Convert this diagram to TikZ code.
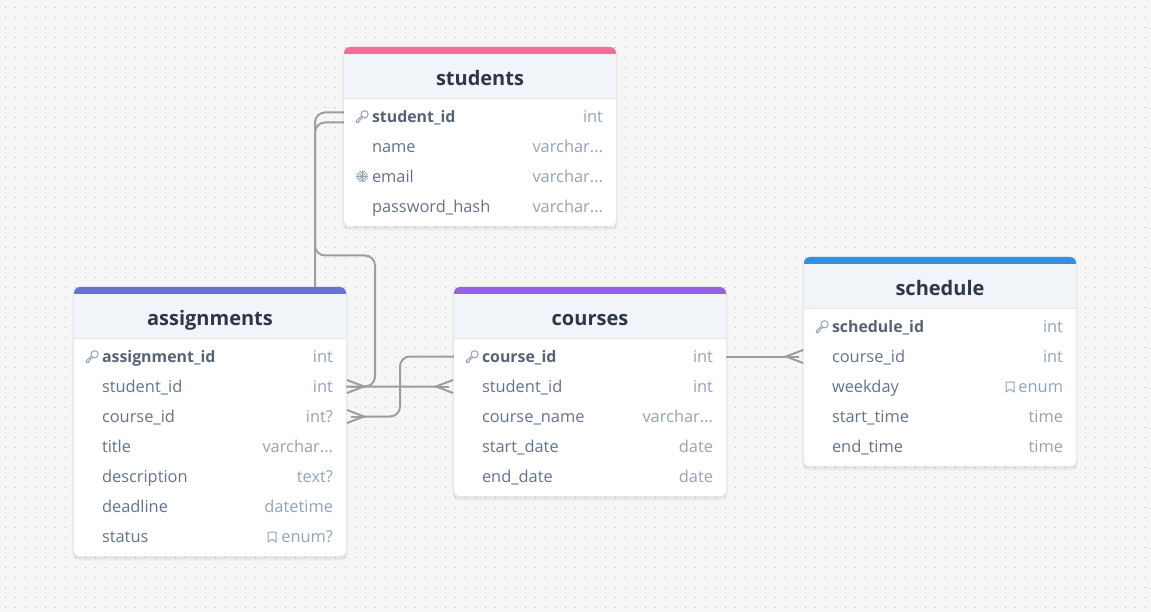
\documentclass[tikz,border=0pt]{standalone}
\usepackage{fontspec}
\setmainfont{Open Sans}
\usetikzlibrary{arrows.meta,shadows}
\definecolor{canvascol}{HTML}{F6F6F6}
\definecolor{dotcol}{HTML}{B6B6B6}
\definecolor{linkcol}{HTML}{9E9E9E}
\definecolor{headcol}{HTML}{F1F5F9}
\definecolor{rulecol}{HTML}{E2E8F0}
\definecolor{titlecol}{HTML}{2D3748}
\definecolor{fieldcol}{HTML}{64748B}
\definecolor{pkcol}{HTML}{566375}
\definecolor{typecol}{HTML}{94A3B8}
\definecolor{studentscol}{HTML}{F66D9B}
\definecolor{assignmentscol}{HTML}{6574CD}
\definecolor{coursescol}{HTML}{9561E2}
\definecolor{schedulecol}{HTML}{3490DC}
\newcommand{\pk}[1]{{\fontsize{15.9pt}{20pt}\selectfont\textbf{\textcolor{pkcol}{#1}}}}
\newcommand{\typ}[1]{\textcolor{typecol}{#1}}
\tikzset{
  crow/.tip={Rectangle[length=17pt,width=2pt,sep=-17pt] Straight Barb[reversed,length=17pt,width=13pt]},
  link/.style={draw=linkcol,line width=2pt,rounded corners=10pt},
  tablecard/.style={rectangle,rounded corners=6pt,fill=white,minimum width=272pt,inner sep=0pt,
    general shadow={fill=black,opacity=.02,shadow scale=1.015,shadow yshift=-1pt},
    general shadow={fill=black,opacity=.025,shadow scale=1.01,shadow yshift=-3pt},
    general shadow={fill=black,opacity=.025,shadow scale=1.005,shadow yshift=-4pt}},
  tabletitle/.style={text=titlecol,font=\fontsize{20pt}{24pt}\selectfont\bfseries,inner sep=0pt,text height=21pt,text depth=5pt},
  fieldrow/.style={rectangle,minimum width=272pt,minimum height=30pt,inner sep=0pt,text width=272pt,
    text=fieldcol,font=\fontsize{16.4pt}{20pt}\selectfont,text height=16pt,text depth=4pt,
    execute at begin node=\hspace*{28pt},execute at end node=\hspace*{13pt}},
  iconline/.style={draw=typecol,line width=1pt,line join=round},
  keyicon/.pic={
    \draw [iconline] (2.6,-2.2) circle (3.6);
    \draw [iconline] (0,-0.9) -- (-5.6,4.2) -- (-5.6,6) -- (-3.6,6) -- (-3.6,4.6) -- (-2.2,4.6) -- (-2.2,3.2) -- (1.2,0.8);
  },
  flakeicon/.pic={
    \draw [iconline] (-6,0) -- (6,0) (0,-6) -- (0,6);
    \draw [iconline] (-4,-4) -- (4,4) (-4,4) -- (4,-4);
    \draw [iconline] (-2.5,-5.5) -- (0,-3) -- (2.5,-5.5) (-2.5,5.5) -- (0,3) -- (2.5,5.5);
    \draw [iconline] (-5.5,-2.5) -- (-3,0) -- (-5.5,2.5) (5.5,-2.5) -- (3,0) -- (5.5,2.5);
  },
  markicon/.pic={
    \draw [iconline] (-4,-5) -- (4,-5) -- (4,5) -- (0,2.2) -- (-4,5) -- cycle;
  },
}
\begin{document}
\begin{tikzpicture}[x=1pt,y=-1pt]
\fill [canvascol] (0,0) rectangle (1151,612);
\useasboundingbox (0,0) rectangle (1151,612);
\foreach \i in {0,...,114}
  \foreach \j in {0,...,60}
    \fill [dotcol] ({5+10*\i},{7+10*\j}) rectangle ++(1,1);

\coordinate (lanea) at (315,255.5);
\coordinate (laneb) at (375,255.5);
\coordinate (lanec) at (400,386.5);
\coordinate (stu1) at (344,116.5);
\coordinate (asg2) at (346,386.5);
\coordinate (asg3) at (346,416.5);
\coordinate (crs1w) at (454,356.5);
\coordinate (crs1e) at (726,356.5);
\coordinate (crs2) at (454,386.5);
\coordinate (sch2) at (804,356.5);
\draw [link,-{crow}] ([yshift=4pt]stu1) -| (lanea) -- (lanea |- crs2) -- (crs2);
\draw [link,-{crow}] ([yshift=-6pt]stu1) -| (lanea) -- (laneb) |- (asg2);
\draw [link,-{crow}] (crs1w) -| (lanec) |- (asg3);
\draw [link,-{crow}] (crs1e) -- (sch2);

\node [tablecard,minimum height=179pt] (students) at (480,136.5) {};
\fill [studentscol] (344,55) [rounded corners=6pt] -- (344,47) -- (616,47) [sharp corners] -- (616,55) -- cycle;
\fill [headcol] (344,54) rectangle (616,98);
\draw [rulecol,line width=1.5pt] (344,98.5) -- (616,98.5);
\node [tabletitle] (studentstitle) at (480,78) {students};
\node [fieldrow] (stu1row) at (480,116.5) {\pk{student\_id}\hfill\typ{int}};
\node [fieldrow] (stu2row) at (480,146.5) {name\hfill\typ{varchar...}};
\node [fieldrow] (stu3row) at (480,176.5) {email\hfill\typ{varchar...}};
\node [fieldrow] (stu4row) at (480,206.5) {password\_hash\hfill\typ{varchar...}};
\pic at (362,116.5) {keyicon};
\pic at (362,176.5) {flakeicon};

\node [tablecard,minimum height=269pt] (assignments) at (210,421.5) {};
\fill [assignmentscol] (74,295) [rounded corners=6pt] -- (74,287) -- (346,287) [sharp corners] -- (346,295) -- cycle;
\fill [headcol] (74,294) rectangle (346,338);
\draw [rulecol,line width=1.5pt] (74,338.5) -- (346,338.5);
\node [tabletitle] (assignmentstitle) at (210,318) {assignments};
\node [fieldrow] (asg1row) at (210,356.5) {\pk{assignment\_id}\hfill\typ{int}};
\node [fieldrow] (asg2row) at (210,386.5) {student\_id\hfill\typ{int}};
\node [fieldrow] (asg3row) at (210,416.5) {course\_id\hfill\typ{int?}};
\node [fieldrow] (asg4row) at (210,446.5) {title\hfill\typ{varchar...}};
\node [fieldrow] (asg5row) at (210,476.5) {description\hfill\typ{text?}};
\node [fieldrow] (asg6row) at (210,506.5) {deadline\hfill\typ{datetime}};
\node [fieldrow] (asg7row) at (210,536.5) {status\hfill\typ{enum?}};
\pic at (92,356.5) {keyicon};
\pic at (272,537) {markicon};

\node [tablecard,minimum height=209pt] (courses) at (590,391.5) {};
\fill [coursescol] (454,295) [rounded corners=6pt] -- (454,287) -- (726,287) [sharp corners] -- (726,295) -- cycle;
\fill [headcol] (454,294) rectangle (726,338);
\draw [rulecol,line width=1.5pt] (454,338.5) -- (726,338.5);
\node [tabletitle] (coursestitle) at (590,318) {courses};
\node [fieldrow] (crs1row) at (590,356.5) {\pk{course\_id}\hfill\typ{int}};
\node [fieldrow] (crs2row) at (590,386.5) {student\_id\hfill\typ{int}};
\node [fieldrow] (crs3row) at (590,416.5) {course\_name\hfill\typ{varchar...}};
\node [fieldrow] (crs4row) at (590,446.5) {start\_date\hfill\typ{date}};
\node [fieldrow] (crs5row) at (590,476.5) {end\_date\hfill\typ{date}};
\pic at (472,356.5) {keyicon};

\node [tablecard,minimum height=209pt] (schedule) at (940,361.5) {};
\fill [schedulecol] (804,265) [rounded corners=6pt] -- (804,257) -- (1076,257) [sharp corners] -- (1076,265) -- cycle;
\fill [headcol] (804,264) rectangle (1076,308);
\draw [rulecol,line width=1.5pt] (804,308.5) -- (1076,308.5);
\node [tabletitle] (scheduletitle) at (940,288) {schedule};
\node [fieldrow] (sch1row) at (940,326.5) {\pk{schedule\_id}\hfill\typ{int}};
\node [fieldrow] (sch2row) at (940,356.5) {course\_id\hfill\typ{int}};
\node [fieldrow] (sch3row) at (940,386.5) {weekday\hfill\typ{enum}};
\node [fieldrow] (sch4row) at (940,416.5) {start\_time\hfill\typ{time}};
\node [fieldrow] (sch5row) at (940,446.5) {end\_time\hfill\typ{time}};
\pic at (822,326.5) {keyicon};
\pic at (1010,387) {markicon};
\end{tikzpicture}
\end{document}
